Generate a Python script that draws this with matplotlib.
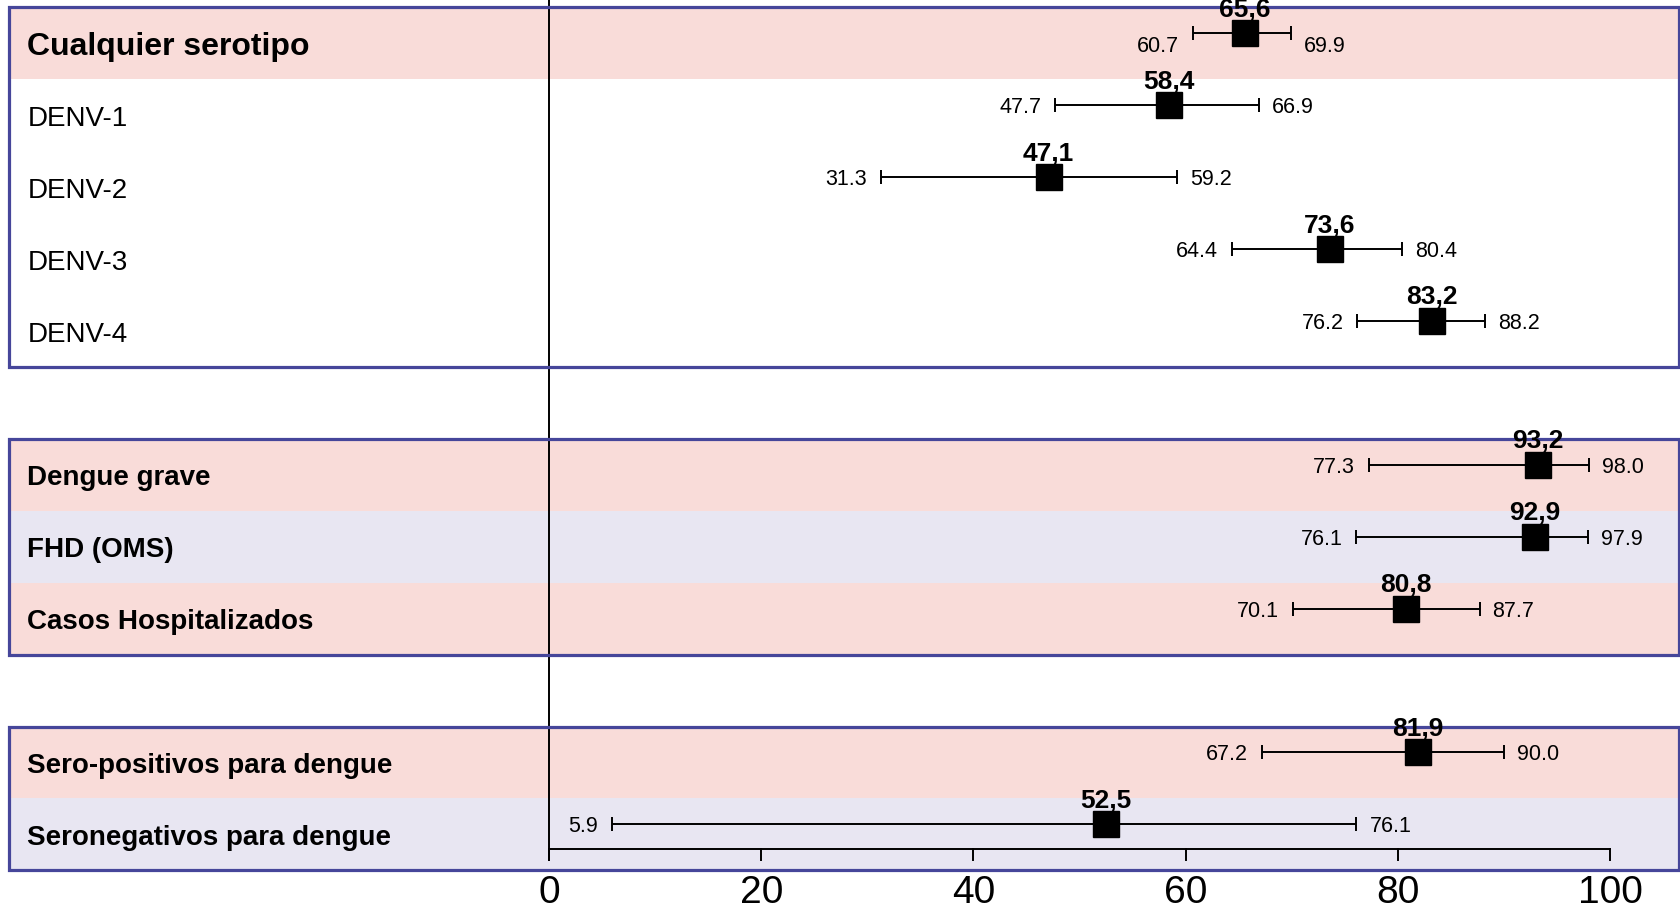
import matplotlib
matplotlib.use("Agg")
import matplotlib.pyplot as plt
from matplotlib.patches import Rectangle

plt.rcParams['font.family'] = ['Liberation Sans', 'DejaVu Sans']

# ---- data ----
labels = ["Cualquier serotipo", "DENV-1", "DENV-2", "DENV-3", "DENV-4",
          "Dengue grave", "FHD (OMS)", "Casos Hospitalizados",
          "Sero-positivos para dengue", "Seronegativos para dengue"]
estimates = [65.6, 58.4, 47.1, 73.6, 83.2, 93.2, 92.9, 80.8, 81.9, 52.5]
ci_low = [60.7, 47.7, 31.3, 64.4, 76.2, 77.3, 76.1, 70.1, 67.2, 5.9]
ci_high = [69.9, 66.9, 59.2, 80.4, 88.2, 98.0, 97.9, 87.7, 90.0, 76.1]
label_bold = [True, False, False, False, False, True, True, True, True, True]
group_sizes = [5, 3, 2]
xticks = [0, 20, 40, 60, 80, 100]

# ---- styling ----
PINK = "#F9DCD9"
LAV = "#E8E6F2"
WHITE = "#FFFFFF"
BORDER = "#46469A"
group_colors = [[PINK, WHITE, WHITE, WHITE, WHITE],
                [PINK, LAV, PINK],
                [PINK, LAV]]

fig = plt.figure(figsize=(16.81, 9.16), dpi=100)
ax = fig.add_axes([0, 0, 1, 1])
ax.set_xlim(-51.74, 106.69)
ax.set_ylim(12.635, -0.104)
ax.axis("off")

box_left, box_right = -50.93, 106.5
label_x = -49.15

# compute row slots with one empty slot between groups
slots = []
slot = 0
for gi, n in enumerate(group_sizes):
    top = slot
    for k in range(n):
        ax.add_patch(Rectangle((box_left, slot), box_right - box_left, 1,
                               facecolor=group_colors[gi][k], edgecolor="none", zorder=0))
        slots.append(slot)
        slot += 1
    ax.add_patch(Rectangle((box_left, top), box_right - box_left, n,
                           facecolor="none", edgecolor=BORDER, lw=2.3, zorder=5))
    slot += 1

# axis line & ticks
axis_y = 11.70
tick_len = 0.15
ax.plot([xticks[0], xticks[-1]], [axis_y, axis_y], color="black", lw=1.4, zorder=3)
for t in xticks:
    ax.plot([t, t], [axis_y, axis_y + tick_len], color="black", lw=1.4, zorder=3)
    ax.text(t, 12.32, str(t), fontsize=28, ha="center", va="center", zorder=6)

# vertical reference line at 0
ax.plot([0, 0], [-0.104, axis_y + tick_len], color="black", lw=1.4, zorder=3)

for i, lab in enumerate(labels):
    s = slots[i]
    fs = 23 if i == 0 else 20
    ax.text(label_x, s + 0.55, lab, fontsize=fs,
            fontweight="bold" if label_bold[i] else "normal",
            ha="left", va="center", zorder=6)
    y = s + 0.36
    ax.errorbar([estimates[i]], [y],
                xerr=[[estimates[i] - ci_low[i]], [ci_high[i] - estimates[i]]],
                fmt="s", color="black", ecolor="black", elinewidth=1.4,
                capsize=4.7, capthick=1.4, markersize=18.5, zorder=4)
    ax.text(estimates[i], y - 0.23, f"{estimates[i]:.1f}".replace(".", ","),
            fontsize=19, fontweight="bold", ha="center", va="baseline", zorder=6)
    ly = y + (0.15 if i == 0 else 0.0)
    ax.annotate(f"{ci_low[i]:.1f}", (ci_low[i], ly), xytext=(-14, 0),
                textcoords="offset pixels", fontsize=15.5, ha="right",
                va="center_baseline", zorder=6)
    ax.annotate(f"{ci_high[i]:.1f}", (ci_high[i], ly), xytext=(13, 0),
                textcoords="offset pixels", fontsize=15.5, ha="left",
                va="center_baseline", zorder=6)

fig.savefig("out.png", dpi=100)
